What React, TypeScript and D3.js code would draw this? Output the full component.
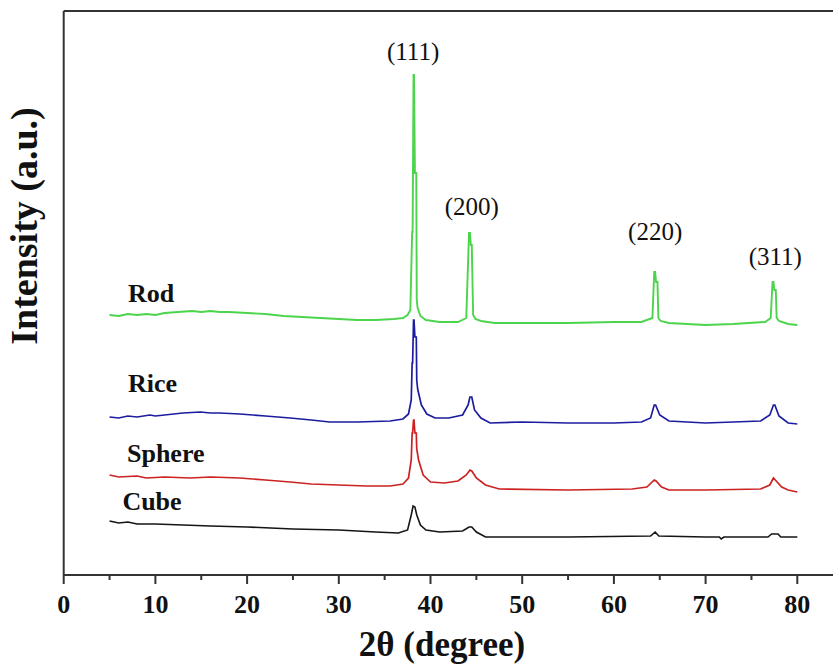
import React from "react";
import * as d3 from "d3";

// [2θ (degree), intensity (a.u.)]
const rod: [number, number][] = [[5,259],[6,258],[7,260],[8,259],[9,260],[10,259],[11,261],[12.5,262],[14,263],[15,262],[16,263],[17,262],[18,262],[20,261],[22,260],[24,258],[26,257],[28,256],[30,255],[32,254],[34,254],[36,255],[37,256],[37.5,259],[37.8,264],[38.0,342],[38.05,342],[38.15,499],[38.2,499],[38.3,401],[38.45,401],[38.5,274],[38.6,266],[38.9,258],[39.5,254],[41,252],[43,252],[43.9,256],[44.2,341],[44.3,341],[44.4,329],[44.5,329],[44.65,259],[44.9,255],[45.5,253],[47,251],[52,251],[55,251],[60,252],[63,252],[64.2,256],[64.4,302],[64.5,302],[64.6,292],[64.75,292],[64.85,256],[65.1,253],[66,251],[68,250],[70,249],[73,250],[76.5,252],[77.1,256],[77.3,292],[77.4,292],[77.5,284],[77.65,284],[77.75,256],[78,253],[79,250],[80,249]];

const rice: [number, number][] = [[5,157],[6,156],[7,158],[8,157],[9.4,159],[10,158],[12,160],[13,161],[14.9,162],[16,161],[17,161],[19.2,160],[22,158],[24.7,156],[27,154],[29,152],[32,152],[35.6,153],[37,155],[37.6,160],[37.9,174],[38.0,211],[38.05,211],[38.15,254],[38.2,254],[38.3,237],[38.45,237],[38.5,194],[38.6,185],[39,169],[39.6,160],[40.5,156],[42,156],[43.5,159],[44.1,169],[44.3,177],[44.5,177],[44.8,164],[45.5,156],[46.5,151],[50,152],[55,151],[60,151],[63,152],[64,156],[64.4,169],[64.55,169],[65,159],[66,153],[70,151],[73,152],[76,153],[77,159],[77.4,169],[77.55,169],[78,158],[79,151],[80,150]];

const sphere: [number, number][] = [[5,99],[6,97],[8,98],[9,96],[11,97],[13.8,96],[16,97],[19.2,96],[22,94],[24.7,92],[27,90],[30,89],[33,88],[35.6,88],[37,90],[37.6,96],[37.9,114],[38.0,141],[38.05,141],[38.15,154],[38.2,154],[38.3,141],[38.45,141],[38.5,125],[38.7,114],[39.2,99],[40,92],[41.5,91],[43,93],[43.9,99],[44.3,104],[44.5,103],[45,96],[46,89],[47.5,85],[55,84],[62,85],[63.6,87],[64.4,94],[64.6,93],[65.2,87],[66,84],[70,84],[76,85],[77,89],[77.4,96],[77.7,93],[78.3,87],[79,84],[80,82]];

const cube: [number, number][] = [[5,53],[6,51],[7,52],[8,50],[10,50],[13,49],[16,48],[20,47],[25,45],[30,44],[34,42],[36.5,41],[37.5,44],[37.9,59],[38.1,68],[38.3,67],[38.5,59],[38.9,49],[39.5,44],[41,42],[43.5,43],[44.2,47],[44.5,47],[45,42],[46,37],[55,37],[64,38],[64.5,42],[64.9,38],[70,37],[71.5,37],[71.7,35],[72,37],[76.8,37],[77.2,40],[77.9,40],[78.2,37],[80,37]];

const seriesNames = ["Rod", "Rice", "Sphere", "Cube"];
const seriesColors = ["#4cd44c", "#1c1ca0", "#cc2222", "#151515"];

const xTicks = [0, 10, 20, 30, 40, 50, 60, 70, 80];
const xMinorTicks = [5, 15, 25, 35, 45, 55, 65, 75];

const peakLabels = ["(111)", "(200)", "(220)", "(311)"];
const peakLabelX = [38.1, 44.5, 64.5, 77.6];
const peakLabelY = [514, 359, 334, 309];

const seriesLabelX = [7, 7, 6.9, 6.4];
const seriesLabelY = [272, 182, 112, 64];

export default function App() {
  const W = 833, H = 666;
  const left = 63.7, top = 11, bottom = 575;
  const x = d3.scaleLinear().domain([0, 85]).range([left, left + 85 * 9.17]);
  const y = d3.scaleLinear().domain([0, 563]).range([574, 11]);
  const line = d3.line<[number, number]>().x(d => x(d[0])).y(d => y(d[1]));

  const series = [rod, rice, sphere, cube];
  const widths = [1.9, 1.7, 1.7, 1.6];

  const serif = "Liberation Serif, serif";

  return (
    <svg width={W} height={H} style={{ position: "absolute", left: 0, top: 0, background: "#fff" }}>
      {series.map((s, i) => (
        <path key={i} d={line(s) || ""} fill="none" stroke={seriesColors[i]} strokeWidth={widths[i]} strokeLinejoin="miter" />
      ))}
      {/* frame */}
      <line x1={left} y1={top} x2={W} y2={top} stroke="#333" strokeWidth={2} />
      <line x1={left} y1={top} x2={left} y2={bottom} stroke="#333" strokeWidth={2} />
      <line x1={left} y1={bottom} x2={W} y2={bottom} stroke="#333" strokeWidth={2} />
      {xTicks.map(t => (
        <g key={t}>
          <line x1={x(t)} x2={x(t)} y1={bottom} y2={bottom + 9} stroke="#333" strokeWidth={2} />
          <text x={x(t)} y={613} textAnchor="middle" fontFamily={serif} fontWeight="bold" fontSize={26} fill="#111">{t}</text>
        </g>
      ))}
      {xMinorTicks.map(t => (
        <line key={t} x1={x(t)} x2={x(t)} y1={bottom} y2={bottom + 5} stroke="#333" strokeWidth={2} />
      ))}
      <text x={442} y={656} textAnchor="middle" fontFamily={serif} fontWeight="bold" fontSize={35} fill="#111">2θ (degree)</text>
      <text transform="translate(37,226) rotate(-90)" textAnchor="middle" fontFamily={serif} fontWeight="bold" fontSize={38} fill="#111">Intensity (a.u.)</text>
      {peakLabels.map((p, i) => (
        <text key={p} x={x(peakLabelX[i])} y={y(peakLabelY[i])} textAnchor="middle" fontFamily={serif} fontSize={25} fill="#111">{p}</text>
      ))}
      {seriesNames.map((n, i) => (
        <text key={n} x={x(seriesLabelX[i])} y={y(seriesLabelY[i])} fontFamily={serif} fontWeight="bold" fontSize={26} fill="#111">{n}</text>
      ))}
    </svg>
  );
}
